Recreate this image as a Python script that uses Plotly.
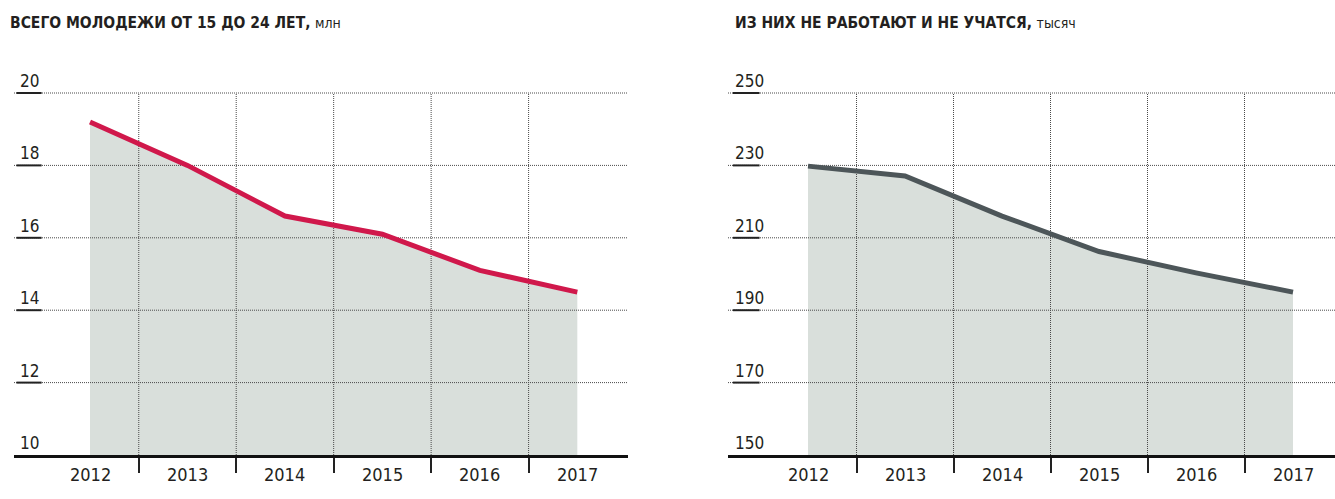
import plotly.graph_objects as go

# ---- data ----
years = ["2012", "2013", "2014", "2015", "2016", "2017"]
youth_mln = [19.2, 18.0, 16.6, 16.1, 15.1, 14.5]
neet_thousand = [229.8, 227.1, 216.0, 206.2, 200.3, 195.0]
left_ticks = [10, 12, 14, 16, 18, 20]
right_ticks = [150, 170, 190, 210, 230, 250]
left_title = "ВСЕГО МОЛОДЕЖИ ОТ 15 ДО 24 ЛЕТ,"
left_unit = "млн"
right_title = "ИЗ НИХ НЕ РАБОТАЮТ И НЕ УЧАТСЯ,"
right_unit = "тысяч"

FONT = "Liberation Sans Narrow, DejaVu Sans Condensed, Arial Narrow, sans-serif"
TXT = "#231f20"
FILL = "#d9dfdb"
GRID = "#4a4a4a"
W, H = 1335, 499
MT, MB = 91, 44
PH = H - MT - MB

xs = list(range(len(years)))
bounds = [i + 0.5 for i in range(len(years) - 1)]

panels = [
    dict(x="x", y="y", xa="xaxis", ya="yaxis", vals=youth_mln, ticks=left_ticks,
         color="#d0184b", xrange=[-0.78, 5.52], dom=[14 / W, 628 / W],
         title=left_title, unit=left_unit, tx=8 / W, lab_x=0.006, seg=[0.004, 0.045]),
    dict(x="x2", y="y2", xa="xaxis2", ya="yaxis2", vals=neet_thousand, ticks=right_ticks,
         color="#4d5659", xrange=[-0.825, 5.433], dom=[728 / W, 1.0],
         title=right_title, unit=right_unit, tx=733 / W, lab_x=0.008, seg=[0.008, 0.052]),
]

fig = go.Figure()
annotations = []
shapes = []

for p in panels:
    lo, hi = p["ticks"][0], p["ticks"][-1]
    pad = (hi - lo) / 362 * 2
    # base for fill
    fig.add_trace(go.Scatter(x=xs, y=[lo] * len(xs), xaxis=p["x"], yaxis=p["y"],
                             mode="lines", line=dict(width=0), showlegend=False,
                             hoverinfo="skip"))
    fig.add_trace(go.Scatter(x=xs, y=p["vals"], xaxis=p["x"], yaxis=p["y"],
                             mode="lines", line=dict(width=0), fill="tonexty",
                             fillcolor=FILL, showlegend=False, hoverinfo="skip"))
    # horizontal dotted gridlines
    for t in p["ticks"][1:]:
        fig.add_trace(go.Scatter(x=p["xrange"], y=[t, t], xaxis=p["x"], yaxis=p["y"],
                                 mode="lines", line=dict(width=1, color=GRID, dash="1px,1px"),
                                 showlegend=False, hoverinfo="skip"))
    # vertical dotted gridlines at category boundaries
    for b in bounds:
        fig.add_trace(go.Scatter(x=[b, b], y=[lo, hi], xaxis=p["x"], yaxis=p["y"],
                                 mode="lines", line=dict(width=1, color=GRID, dash="1px,1px"),
                                 showlegend=False, hoverinfo="skip"))
    # the data line
    fig.add_trace(go.Scatter(x=xs, y=p["vals"], xaxis=p["x"], yaxis=p["y"],
                             mode="lines", line=dict(width=5, color=p["color"]),
                             showlegend=False))

    fig.layout[p["xa"]] = dict(domain=p["dom"], range=p["xrange"], anchor=p["y"],
                               showgrid=False, zeroline=False, showline=True,
                               linecolor="#111111", linewidth=3,
                               tickmode="array", tickvals=bounds, ticks="outside",
                               ticklen=15, tickwidth=1.5, tickcolor="#222222",
                               showticklabels=False, fixedrange=True)
    fig.layout[p["ya"]] = dict(domain=[0, 1], range=[lo, hi + pad], anchor=p["x"],
                               showgrid=False, zeroline=False, showline=False,
                               showticklabels=False, fixedrange=True)

    # y tick labels
    for t in p["ticks"]:
        annotations.append(dict(x=p["lab_x"], xref=p["x"] + " domain", y=t, yref=p["y"],
                                text=str(t), showarrow=False, xanchor="left",
                                yanchor="bottom", yshift=0,
                                font=dict(family=FONT, size=17, color=TXT)))
        if t != lo:
            shapes.append(dict(type="line", xref=p["x"] + " domain", yref=p["y"],
                               x0=p["seg"][0], x1=p["seg"][1], y0=t, y1=t,
                               line=dict(color="#222222", width=2), layer="above"))
    # year labels
    for i, yr in enumerate(years):
        annotations.append(dict(x=i, xref=p["x"], y=0, yref=p["y"] + " domain",
                                text=yr, showarrow=False, xanchor="center",
                                yanchor="top", yshift=-7,
                                font=dict(family=FONT, size=18, color=TXT)))
    # title
    annotations.append(dict(x=p["tx"], xref="paper", y=1 + (MT - 12) / PH, yref="paper",
                            text="<b>" + p["title"] + "</b> <span style='font-size:14px'>"
                                 + p["unit"] + "</span>",
                            showarrow=False, xanchor="left", yanchor="top",
                            font=dict(family=FONT, size=15.5, color=TXT)))

fig.update_layout(width=W, height=H, margin=dict(l=0, r=0, t=MT, b=MB),
                  paper_bgcolor="white", plot_bgcolor="white",
                  annotations=annotations, shapes=shapes, showlegend=False)

fig.write_html("out.html", config={"displayModeBar": False},
               post_script="document.body.style.margin='0px';")
